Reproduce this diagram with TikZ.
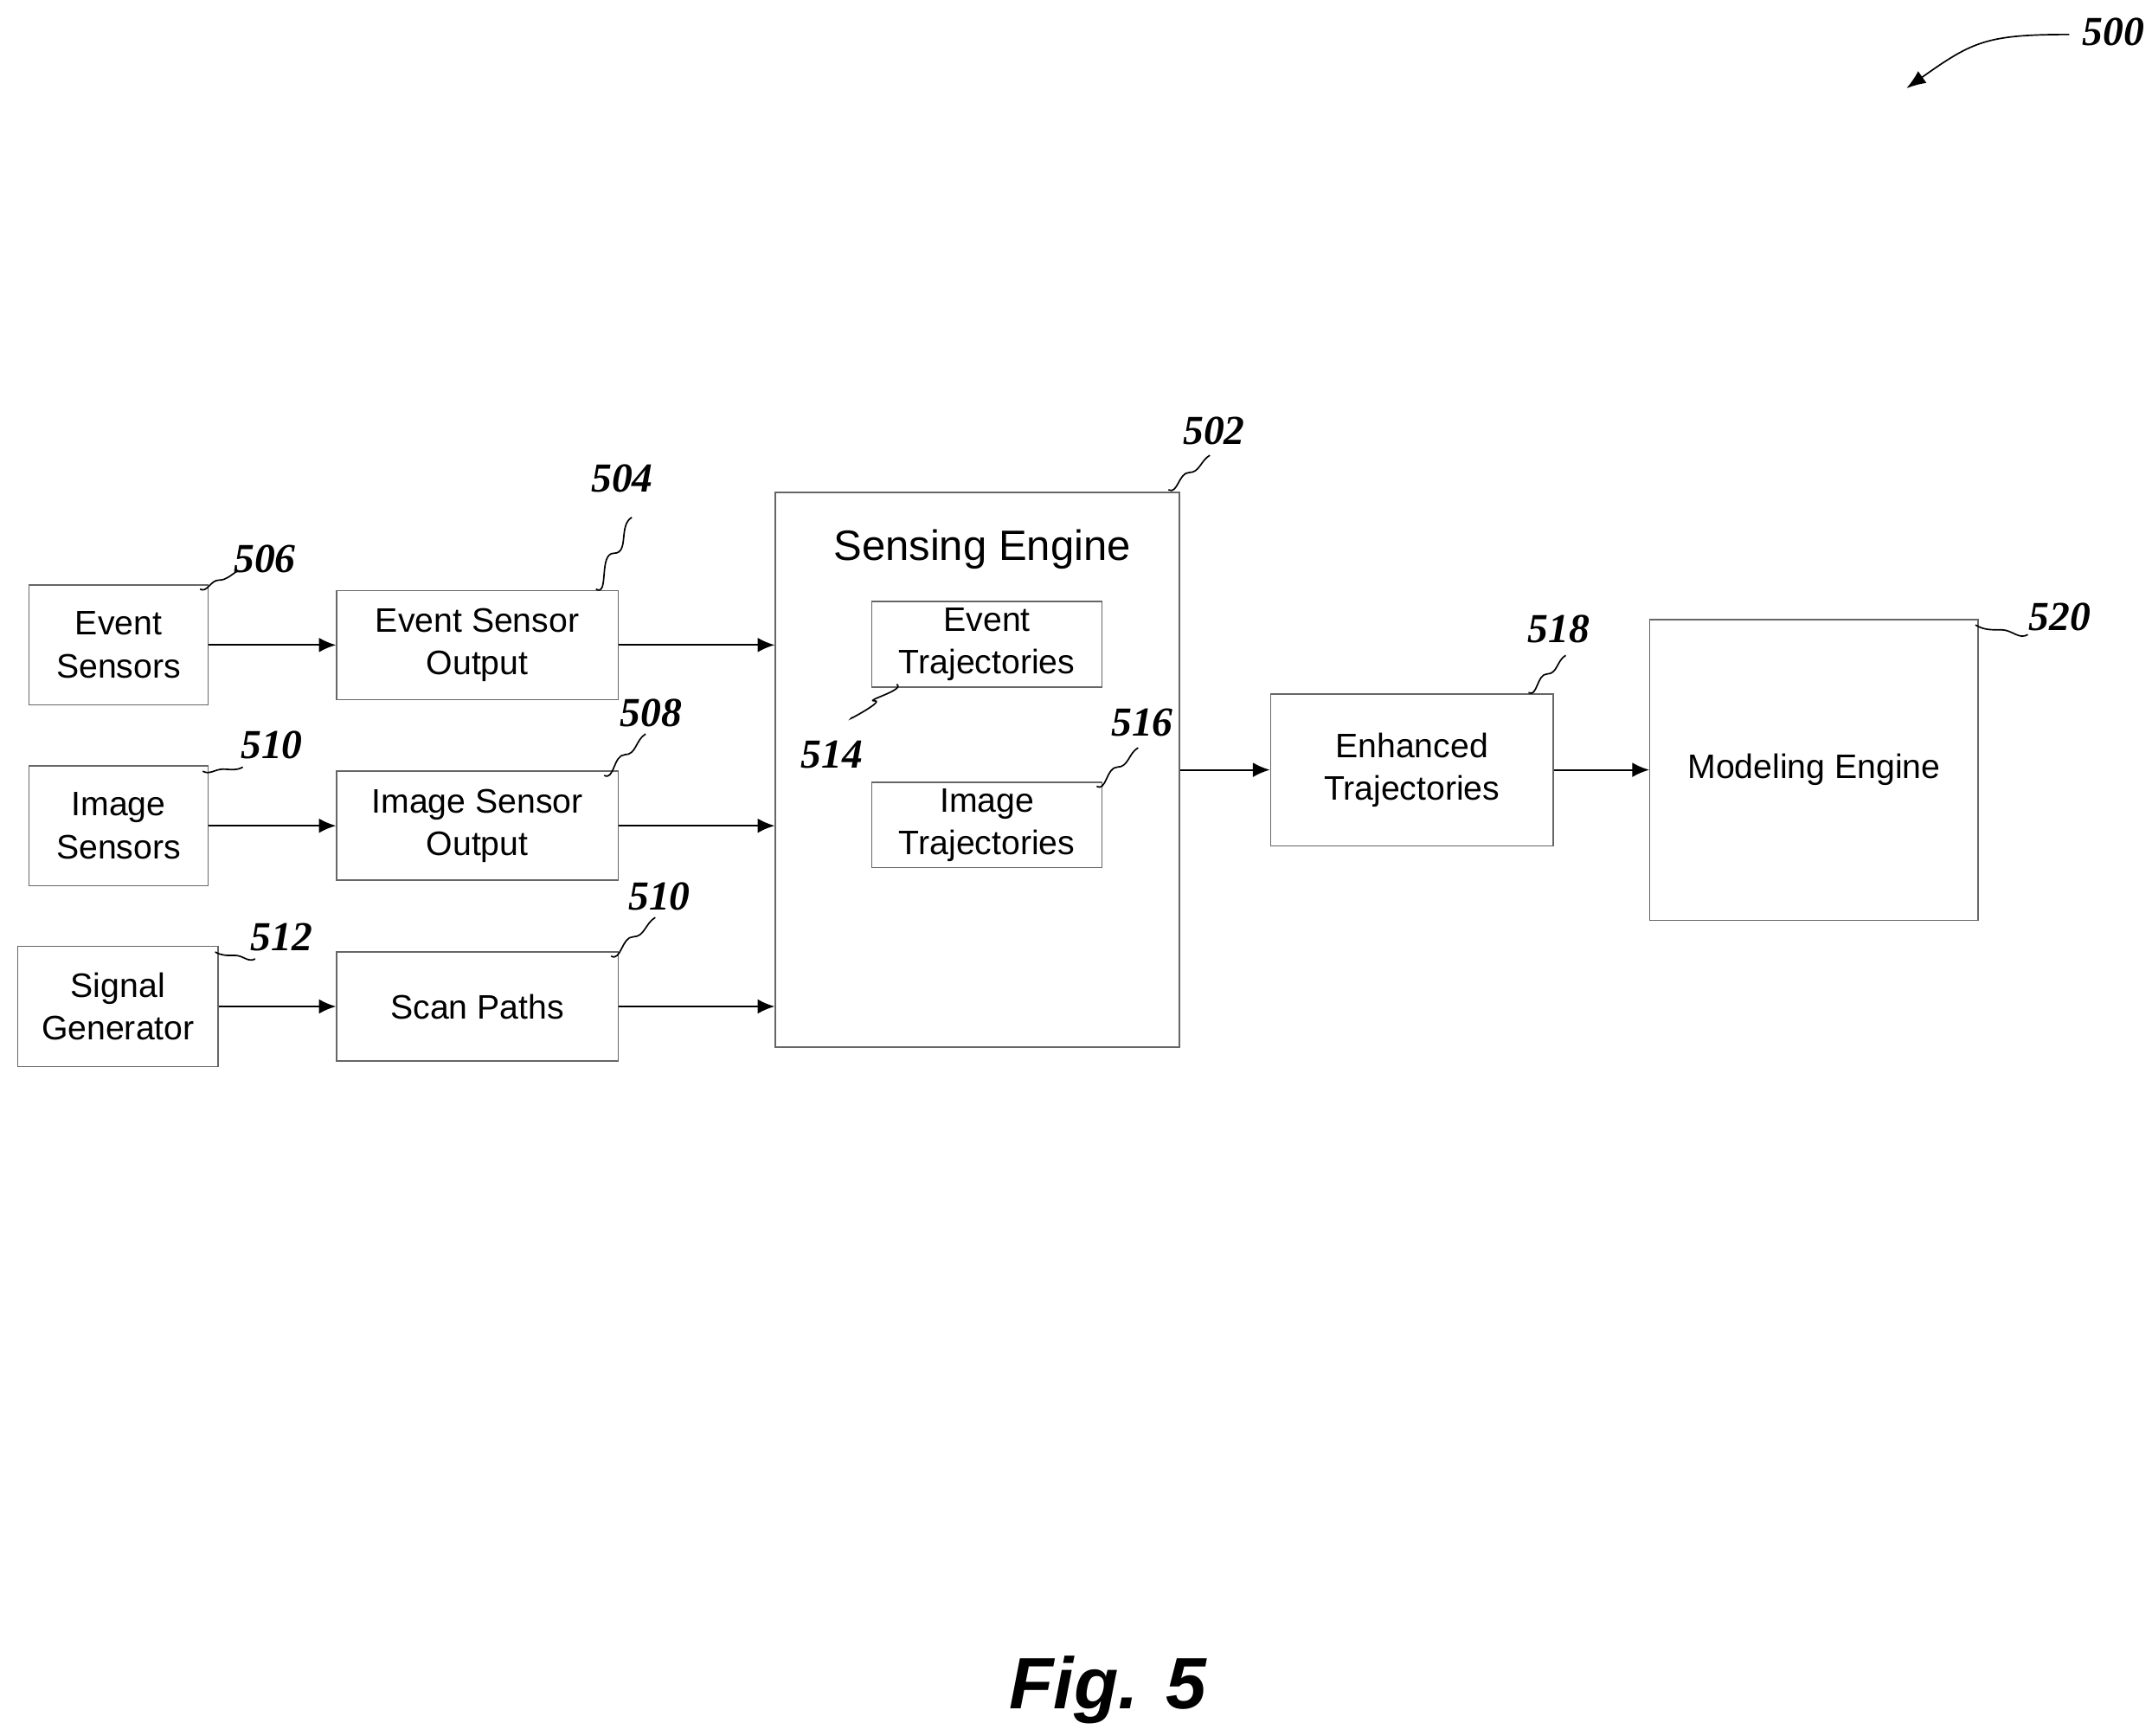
\documentclass[tikz,border=0pt]{standalone}
\usepackage{fontspec}
\setmainfont{Liberation Sans}
\newfontfamily\numfont{Liberation Serif}
\usetikzlibrary{calc,arrows.meta}
\begin{document}
\begin{tikzpicture}
    [ x=.02cm, y=-.02cm,
      blk/.style={draw=gray!80!black, line width=.5pt, inner sep=0pt,
                  font=\fontsize{14}{17.6}\selectfont, align=center},
      num/.style={font=\numfont\bfseries\itshape\fontsize{17}{20}\selectfont},
      flow/.style={-{Latex[length=7pt,width=6pt]}, line width=.7pt},
      lead/.style={line width=.6pt},
    ]
    \useasboundingbox (0,0) rectangle (1560,1258);
    \newcommand{\blkat}[6]{\node[blk, minimum width={(#4-#2)*0.02cm}, minimum height={(#5-#3)*0.02cm}]
        (#1) at ({(#2+#4)/2},{(#3+#5)/2}) {#6};}
    \blkat{es}{21}{424}{151}{511}{Event\\Sensors}
    \blkat{eso}{244}{428}{448}{507}{Event Sensor\\Output}
    \blkat{is}{21}{555}{151}{642}{Image\\Sensors}
    \blkat{iso}{244}{559}{448}{638}{Image Sensor\\Output}
    \blkat{sg}{13}{686}{158}{773}{Signal\\Generator}
    \blkat{sp}{244}{690}{448}{769}{Scan Paths}
    \blkat{se}{562}{357}{855}{759}{}
    \node[font=\fontsize{17.5}{20}\selectfont] (setitle) at (712,398) {Sensing Engine};
    \blkat{et}{632}{436}{799}{498}{Event\\Trajectories}
    \blkat{it}{632}{567}{799}{629}{Image\\Trajectories}
    \blkat{enh}{921}{503}{1126}{613}{Enhanced\\Trajectories}
    \blkat{me}{1196}{449}{1434}{667}{Modeling Engine}

    % connectors
    \foreach \a/\b in {es/eso, is/iso, sg/sp} {
        \draw[flow] (\a.east) -- (\b.west);
    }
    \draw[flow] (eso.east) -- (eso.east -| se.west);
    \draw[flow] (iso.east) -- (iso.east -| se.west);
    \draw[flow] (sp.east) -- (sp.east -| se.west);
    \draw[flow] (se.east |- enh.west) -- (enh.west);
    \draw[flow] (enh.east) -- (enh.east -| me.west);

    % reference numerals with wavy leaders
    \foreach \name/\tx/\ty/\sx/\sy/\ex/\ey in {
        506/192/405/145/427/172/414,
        504/451/347/432/427/458/375,
        508/472/517/438/562/468/532,
        510/197/540/147/559/176/556,
        510/478/650/443/693/475/665,
        512/204/679/156/690/185/695,
        502/880/312/847/355/877/330,
        514/603/547/650/496/618/520,
        516/828/524/795/570/825/542,
        518/1130/456/1108/502/1135/475,
        520/1493/447/1432/453/1470/460} {
        \node[num] (n\name) at (\tx,\ty) {\name};
        \coordinate (s\name) at (\sx,\sy);
        \coordinate (e\name) at (\ex,\ey);
        \draw[lead] (s\name) to[out=-30,in=180] ($(s\name)!.5!(e\name)$) to[out=0,in=-150] (e\name);
    }

    \node[num] (n500) at (1532,23) {500};
    \coordinate (a500) at (1382,64);
    \draw[lead, -{Latex[length=8pt,width=6pt]}] (1500,25) .. controls (1440,25) and (1430,30) .. (a500);

    \node[font=\bfseries\itshape\fontsize{30}{34}\selectfont] (fig) at (803,1225) {Fig. 5};
\end{tikzpicture}
\end{document}
